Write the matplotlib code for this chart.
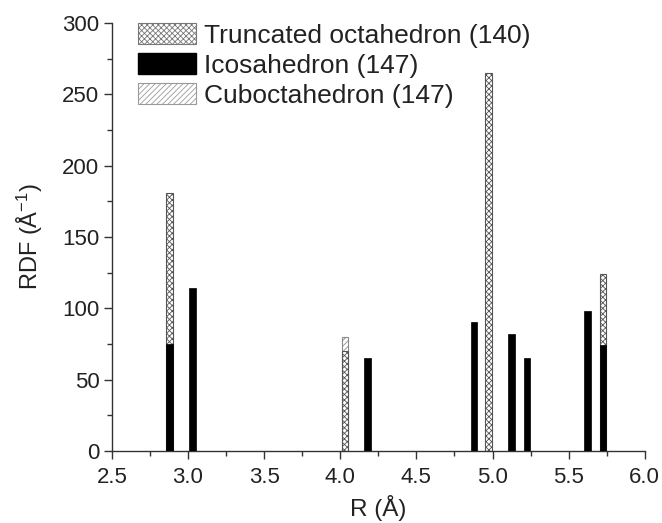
import matplotlib.pyplot as plt
import matplotlib.patches as mpatches
from matplotlib.ticker import MultipleLocator

plt.rcParams["font.family"] = ["Liberation Sans", "DejaVu Sans"]
plt.rcParams["mathtext.fontset"] = "custom"
plt.rcParams["mathtext.rm"] = "Liberation Sans"
plt.rcParams["mathtext.it"] = "Liberation Sans"
plt.rcParams["hatch.linewidth"] = 0.6

# RDF peaks per cluster: distance R (Å) and height (Å^-1)
cubo_r = [4.03]
cubo_h = [80]

trunc_r = [2.88, 4.03, 4.975, 5.725]
trunc_h = [181, 70, 265, 124]

ico_r = [2.88, 3.03, 4.18, 4.877, 5.125, 5.225, 5.625, 5.725]
ico_h = [75, 114, 65, 90, 82, 65, 98, 74]

W = 0.043

fig = plt.figure(figsize=(6.62, 5.23), dpi=100)
ax = fig.add_axes([0.169, 0.138, 0.805, 0.818])

ax.bar(cubo_r, cubo_h, W, color="white", edgecolor="#8a8a8a", hatch="//////",
       linewidth=0.8, zorder=1)
ax.bar(trunc_r, trunc_h, W, color="white", edgecolor="#555555", hatch="xxxxxx",
       linewidth=0.8, zorder=2)
ax.bar(ico_r, ico_h, W, color="black", edgecolor="black", linewidth=0.5, zorder=3)

ax.set_xlim(2.5, 6.0)
ax.set_ylim(0, 300)
ax.xaxis.set_major_locator(MultipleLocator(0.5))
ax.xaxis.set_minor_locator(MultipleLocator(0.25))
ax.yaxis.set_major_locator(MultipleLocator(50))
ax.yaxis.set_minor_locator(MultipleLocator(25))
ax.set_xticklabels([f"{v:.1f}" for v in ax.get_xticks()])

for s in ("top", "right"):
    ax.spines[s].set_visible(False)
for s in ("left", "bottom"):
    ax.spines[s].set_color("#333333")
    ax.spines[s].set_linewidth(1.0)

ax.tick_params(which="major", direction="out", length=6, width=1,
               color="#333333", labelsize=16, labelcolor="#222222")
ax.tick_params(axis="x", which="major", pad=6)
ax.tick_params(axis="y", which="major", pad=3)
ax.tick_params(which="minor", direction="out", length=3.5, width=1, color="#333333")

ax.set_xlabel("R (Å)", fontsize=17.5, color="#222222", labelpad=5)
ax.set_ylabel("RDF (Å$^{-1}$)", fontsize=17, color="#222222", labelpad=12)

handles = [
    mpatches.Patch(facecolor="white", edgecolor="#777777", hatch="xxxxxx",
                   linewidth=0.8, label="Truncated octahedron (140)"),
    mpatches.Patch(facecolor="black", edgecolor="black",
                   label="Icosahedron (147)"),
    mpatches.Patch(facecolor="white", edgecolor="#9a9a9a", hatch="//////",
                   linewidth=0.8, label="Cuboctahedron (147)"),
]
ax.legend(handles=handles, loc="upper left", bbox_to_anchor=(0.03, 1.025),
          frameon=False, fontsize=19, handlelength=2.2, handleheight=0.87,
          handletextpad=0.27, labelspacing=0.2, borderaxespad=0,
          labelcolor="#222222")

fig.savefig("out.png", dpi=100, facecolor="white")
